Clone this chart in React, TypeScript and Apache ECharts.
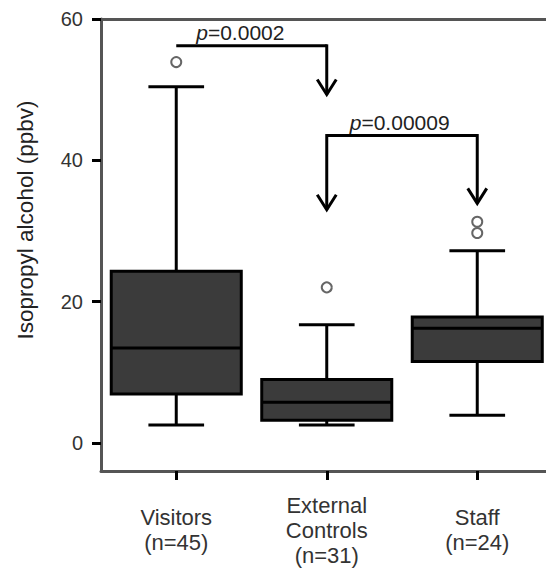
import React, { useEffect, useRef } from "react";
import * as echarts from "echarts";

const categories = ["Visitors\n(n=45)", "External\nControls\n(n=31)", "Staff\n(n=24)"];
// [low whisker, Q1, median, Q3, high whisker]
const boxLow = [2.5, 2.5, 3.9];
const boxQ1 = [6.9, 3.2, 11.5];
const boxMedian = [13.4, 5.75, 16.2];
const boxQ3 = [24.3, 8.95, 17.8];
const boxHigh = [50.4, 16.7, 27.2];
const outlierCat = [0, 1, 2, 2];
const outlierVal = [53.9, 22.0, 31.3, 29.7];
const yTicks = [0, 20, 40, 60];
// annotation brackets
const annFrom = [0, 1];
const annTo = [1, 2];
const annBarY = [56.2, 43.5];
const annLeftTip: (number | null)[] = [null, 33.0];
const annRightTip: (number | null)[] = [49.3, 33.9];
const annLabel = ["0.0002", "0.00009"];

const FONT = "'Liberation Sans', Arial, sans-serif";

export default function App() {
  const ref = useRef<HTMLDivElement>(null);
  useEffect(() => {
    if (!ref.current) return;
    const chart = echarts.init(ref.current, undefined, { renderer: "svg" });
    const boxData = categories.map((_, i) => [i, boxLow[i], boxQ1[i], boxMedian[i], boxQ3[i], boxHigh[i]]);
    const outData = outlierCat.map((c, i) => [c, outlierVal[i]]);
    const annData = annFrom.map((f, i) => [f, annBarY[i]]);
    const lineStyle = { stroke: "#000", lineWidth: 3 };

    const arrowHead = (p: number[]) => ({
      type: "polyline",
      shape: { points: [[p[0] - 9.5, p[1] - 15], [p[0], p[1]], [p[0] + 9.5, p[1] - 15]] },
      style: { stroke: "#000", lineWidth: 3, fill: "none" },
    });

    chart.setOption({
      animation: false,
      grid: { left: 101, top: 19, bottom: 99, right: 7.5 },
      xAxis: [
        {
          type: "category",
          data: categories,
          position: "bottom",
          axisLine: { show: true, onZero: false, lineStyle: { color: "#555", width: 3 } },
          axisTick: { show: true, alignWithLabel: true, length: 9, lineStyle: { color: "#000", width: 3 } },
          axisLabel: {
            color: "#333",
            fontSize: 22,
            fontFamily: FONT,
            lineHeight: 25,
            verticalAlign: "middle",
            margin: 59,
            interval: 0,
          },
          splitLine: { show: false },
        },
        {
          type: "category",
          data: categories,
          position: "top",
          axisLine: { show: true, onZero: false, lineStyle: { color: "#555", width: 3 } },
          axisTick: { show: false },
          axisLabel: { show: false },
          splitLine: { show: false },
        },
      ],
      yAxis: {
        type: "value",
        min: -4,
        max: 60,
        axisLine: { show: true, lineStyle: { color: "#555", width: 3 } },
        axisTick: { show: true, length: 9, lineStyle: { color: "#000", width: 3 }, customValues: yTicks },
        axisLabel: { color: "#333", fontSize: 20, fontFamily: FONT, margin: 18, customValues: yTicks },
        splitLine: { show: false },
      },
      graphic: [
        {
          type: "text",
          x: 25,
          y: 220,
          rotation: Math.PI / 2,
          style: {
            text: "Isopropyl alcohol (ppbv)",
            fill: "#222",
            font: `22.5px ${FONT}`,
            align: "center",
            verticalAlign: "middle",
          },
        },
      ],
      series: [
        {
          type: "custom",
          xAxisIndex: 0,
          data: boxData,
          encode: { x: 0, y: [1, 2, 3, 4, 5] },
          renderItem: (params: any, api: any) => {
            const x = api.value(0);
            const pLow = api.coord([x, api.value(1)]);
            const pQ1 = api.coord([x, api.value(2)]);
            const pMed = api.coord([x, api.value(3)]);
            const pQ3 = api.coord([x, api.value(4)]);
            const pHigh = api.coord([x, api.value(5)]);
            const band = api.size([1, 0])[0];
            const hb = band * 0.432;
            const hc = band * 0.185;
            const cx = pMed[0];
            return {
              type: "group",
              children: [
                { type: "line", shape: { x1: cx, y1: pLow[1], x2: cx, y2: pQ1[1] }, style: lineStyle },
                { type: "line", shape: { x1: cx, y1: pQ3[1], x2: cx, y2: pHigh[1] }, style: lineStyle },
                { type: "line", shape: { x1: cx - hc, y1: pLow[1], x2: cx + hc, y2: pLow[1] }, style: lineStyle },
                { type: "line", shape: { x1: cx - hc, y1: pHigh[1], x2: cx + hc, y2: pHigh[1] }, style: lineStyle },
                {
                  type: "rect",
                  shape: { x: cx - hb, y: pQ3[1], width: hb * 2, height: pQ1[1] - pQ3[1] },
                  style: { fill: "#3b3b3b", stroke: "#000", lineWidth: 3 },
                },
                { type: "line", shape: { x1: cx - hb, y1: pMed[1], x2: cx + hb, y2: pMed[1] }, style: lineStyle },
              ],
            };
          },
        },
        {
          type: "scatter",
          xAxisIndex: 0,
          data: outData,
          symbol: "circle",
          symbolSize: 10,
          itemStyle: { color: "#fff", borderColor: "#666", borderWidth: 2, opacity: 1 },
        },
        {
          type: "custom",
          xAxisIndex: 0,
          data: annData,
          encode: { x: 0, y: 1 },
          clip: false,
          renderItem: (params: any, api: any) => {
            const i = params.dataIndex;
            const pL = api.coord([annFrom[i], annBarY[i]]);
            const pR = api.coord([annTo[i], annBarY[i]]);
            const children: any[] = [
              { type: "line", shape: { x1: pL[0], y1: pL[1], x2: pR[0], y2: pR[1] }, style: lineStyle },
            ];
            const lt = annLeftTip[i];
            if (lt !== null) {
              const t = api.coord([annFrom[i], lt]);
              children.push({ type: "line", shape: { x1: pL[0], y1: pL[1] - 1.5, x2: t[0], y2: t[1] }, style: lineStyle });
              children.push(arrowHead(t));
            }
            const rt = annRightTip[i];
            if (rt !== null) {
              const t = api.coord([annTo[i], rt]);
              children.push({ type: "line", shape: { x1: pR[0], y1: pR[1] - 1.5, x2: t[0], y2: t[1] }, style: lineStyle });
              children.push(arrowHead(t));
            }
            children.push({
              type: "text",
              x: pL[0] + (i === 0 ? 20 : 23),
              y: pL[1] - 3,
              style: {
                text: "{i|p}=" + annLabel[i],
                rich: { i: { fontStyle: "italic", fontSize: 21, fontFamily: FONT, fill: "#222" } },
                fill: "#222",
                font: `21px ${FONT}`,
                align: "left",
                verticalAlign: "bottom",
              },
            });
            return { type: "group", children };
          },
        },
      ],
    });
    return () => chart.dispose();
  }, []);
  return (
    <div
      ref={ref}
      style={{ position: "fixed", left: 0, top: 0, width: 560, height: 570, background: "#fff" }}
    />
  );
}
